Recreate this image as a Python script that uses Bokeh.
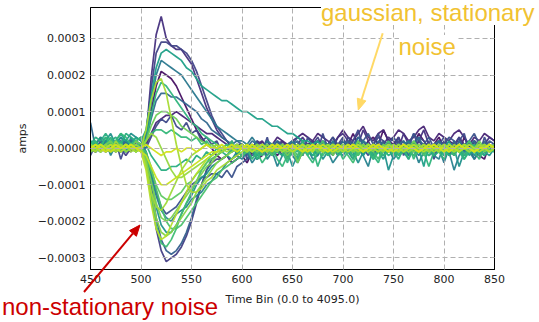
import math
from bokeh.plotting import figure
from bokeh.layouts import column
from bokeh.models import (Div, FixedTicker, CustomJSTickFormatter, LinearAxis, Range1d)
from bokeh.embed import file_html
from bokeh.resources import INLINE

# ---------------- data (values in units of 1e-5 A, sampled every 5 time bins) ----------------
time_bin = list(range(450, 851, 5))
AMP_UNIT = 1e-5

pulse_01 = [1, -1, 2, 0, -1, 1, 2, -1, 0, 1,
            0, 3, 19, 31, 36, 30, 28, 27, 27, 25,
            23, 19, 15, 11, 8, 5, 3, 2, 0, 1,
            1, -1, 0, 2, 1, -1, 0, 1, 2, 0,
            -1, 1, 3, 1, 0, 2, 1, -1, 0, 3,
            4, 2, 0, 1, 5, 2, -1, 0, 1, 3,
            2, 0, 4, 1, -1, 2, 5, 1, 0, 2,
            1, -2, 0, 3, 1, -1, 2, 0, 1, 3,
            2]
pulse_02 = [-1, 1, 0, 2, 1, -1, 0, 2, 1, 0,
            1, 4, 16, 26, 29, 29, 28, 28, 27, 26,
            24, 21, 17, 13, 9, 6, 4, 2, 1, 0,
            0, -2, 1, -1, 0, 2, -1, 1, 0, -2,
            1, 0, 2, -1, 1, 3, 0, -1, 2, 1,
            0, 3, 1, -1, 2, 0, 1, 3, 2, -1,
            1, 2, 0, -2, 1, 3, 2, 0, 1, -1,
            2, 0, 1, 3, -1, 0, 2, 1, -1, 0,
            1]
pulse_03 = [2, 0, 1, 3, 1, 2, 4, 2, 1, 3,
            2, 5, 14, 22, 26, 27, 26, 25, 24, 22,
            21, 19, 17, 16, 15, 14, 13, 13, 12, 11,
            10, 10, 9, 8, 8, 7, 6, 6, 5, 4,
            4, 3, 2, 2, 1, 2, 0, 1, -1, 0,
            1, -1, 0, 2, -2, 0, 1, -1, -3, 0,
            1, -2, 0, -1, 2, 0, -5, 1, 0, -1,
            0, 2, -1, 0, 1, -2, 0, 1, -1, 0,
            1]
pulse_04 = [0, 1, -1, 2, 0, 1, 3, 1, 2, 0,
            1, 3, 12, 20, 24, 23, 22, 21, 20, 18,
            16, 14, 12, 10, 8, 6, 5, 4, 3, 2,
            2, 1, 3, 1, 0, 2, 1, -1, 0, 1,
            2, 0, -1, 1, 0, -2, 1, 0, 2, -1,
            0, 1, -1, 0, 2, 1, -2, 0, 1, -1,
            0, -1, 1, 2, 0, -2, 0, 1, -1, 0,
            -4, 0, -2, 1, 0, 2, -1, 0, 1, 0,
            -1]
pulse_05 = [0, -1, 1, 0, 1, -1, 0, 1, 0, -1,
            0, 5, 13, 18, 19, 15, 8, 1, -5, -10,
            -12, -12, -11, -9, -8, -6, -5, -4, -3, -2,
            -1, 0, 1, 0, -1, 0, 1, 0, 0, 1,
            0, 1, -1, 0, 1, 0, -1, 0, 1, 0,
            -1, 0, 1, 0, -1, 1, 0, -1, 0, 1,
            0, -1, 0, 1, 0, -1, 1, 0, -1, 0,
            1, 0, -1, 0, 1, 0, -1, 1, 0, -1,
            0]
pulse_06 = [7, 0, 2, 1, -1, 0, 1, 2, 0, 1,
            0, 2, 8, 13, 15, 15, 14, 14, 13, 12,
            11, 10, 8, 7, 5, 4, 3, 2, 1, 2,
            1, 0, 2, 1, -1, 0, 1, 2, 0, -1,
            1, 2, 0, -1, 1, 0, 2, 1, -1, 0,
            2, 1, 0, 3, 1, -1, 0, 2, 1, 0,
            -1, 1, 2, 0, 1, 3, 0, -1, 1, 2,
            0, 1, -1, 2, 0, 1, 2, -1, 0, 1,
            0]
pulse_07 = [1, 0, -1, 1, 2, 0, -1, 1, 0, 2,
            1, 2, 6, 9, 10, 10, 9, 8, 6, 5,
            4, 3, 2, 1, 1, 0, -1, 0, 1, -1,
            0, 1, -1, 0, 1, 0, -1, 1, 0, -2,
            0, -4, -1, 0, 1, -1, 0, 1, -2, 0,
            1, 0, -1, 2, 0, -1, 1, 0, -1, 1,
            0, 1, -1, 0, 2, 0, -1, 1, 0, -1,
            1, 0, -1, 0, 1, -1, 0, 2, 0, 1,
            0]
pulse_08 = [0, 1, 0, -1, 1, 0, 2, 0, -1, 1,
            0, 1, 4, 7, 8, 9, 9, 10, 9, 8,
            7, 6, 5, 4, 4, 3, 2, 1, 1, 0,
            1, 0, -1, 1, 2, 0, 1, 3, 2, 1,
            2, 3, 4, 3, 2, 4, 3, 2, 1, 3,
            5, 3, 2, 4, 6, 3, 2, 4, 5, 2,
            3, 5, 4, 2, 3, 5, 6, 3, 2, 4,
            3, 2, 4, 5, 3, 1, 3, 2, 4, 3,
            2]
pulse_09 = [1, 2, 0, 3, 1, 2, 4, 3, 1, 2,
            3, 2, 4, 5, 5, 4, 5, 4, 3, 3,
            2, 3, 1, 2, 0, 1, -1, 0, 2, -1,
            -2, 0, -3, -1, -4, -2, 0, -3, -5, -2,
            -1, -3, 0, -2, -4, -1, 0, -2, -1, 0,
            -3, -1, 0, -2, 1, -1, -3, 0, -2, -1,
            0, -2, -1, 1, -3, 0, -1, -2, 0, -1,
            -3, 0, -1, 1, -2, 0, -1, -3, 0, -1,
            0]
dip_01 = [0, -1, 1, 0, -1, 1, 0, -2, 0, 1,
          0, -3, -12, -22, -28, -31, -30, -29, -27, -24,
          -20, -15, -10, -6, -4, -3, -3, -2, -4, -3,
          -2, -1, 0, -2, -1, 1, -1, 0, -2, 0,
          -1, 1, 0, -1, 2, 0, -1, 1, 0, -2,
          0, 1, -1, 0, -2, 1, 0, -1, 1, 0,
          -1, 0, 1, -1, 0, 2, 0, -1, 1, 0,
          0, -1, 1, 0, -2, 0, -3, -1, 0, 1,
          0]
dip_02 = [1, 0, -1, 2, 1, 0, -1, 1, 2, 0,
          1, -2, -10, -19, -25, -28, -29, -28, -26, -23,
          -19, -14, -10, -6, -3, -2, -1, 0, -1, 0,
          1, 0, -1, 1, 0, -2, 0, 1, -1, 0,
          2, 0, -1, 1, 0, -1, 2, 0, 1, -1,
          0, 2, 1, -1, 0, 1, -2, 0, 1, 0,
          1, -1, 0, 2, 1, -1, 0, 1, -2, 0,
          1, 0, 2, -1, 0, 1, 0, -1, 2, 0,
          1]
dip_03 = [-1, 0, 1, -1, 0, 2, 1, -1, 0, 1,
          0, -4, -13, -21, -26, -27, -25, -22, -18, -15,
          -12, -9, -6, -4, -2, -1, 0, 1, 0, -1,
          0, 1, -1, 0, -2, 0, 1, -1, 0, -3,
          -1, 0, -2, 1, 0, -1, -2, 0, 1, -1,
          0, -2, -4, -1, 0, 1, -1, -3, 0, -1,
          0, -1, 1, 0, -2, -1, 0, 1, -1, 0,
          -1, 0, -2, 0, 1, -1, 0, -1, 1, 0,
          -1]
dip_04 = [0, 1, -1, 0, 1, 0, -1, 0, 1, 0,
          -1, -6, -15, -22, -25, -24, -21, -18, -15, -12,
          -9, -7, -5, -3, -2, -1, 0, 0, 1, 0,
          1, 0, -1, 0, 1, 0, -1, 1, 0, 0,
          -1, 0, 1, 0, -1, 1, 0, -1, 0, 1,
          0, -1, 0, 1, 0, -1, 0, 1, 0, -1,
          1, 0, -1, 0, 1, 0, -1, 0, 1, 0,
          -1, 1, 0, -1, 0, 1, 0, -1, 0, 1,
          0]
dip_05 = [2, 1, 3, 2, 4, 1, 3, 2, 4, 3,
          2, -1, -8, -16, -21, -23, -23, -21, -18, -15,
          -13, -10, -8, -7, -5, -4, -3, -2, -3, -1,
          -2, 0, -1, -3, -1, 0, -2, -1, 0, -1,
          -5, -2, 0, -1, -2, 0, -3, -1, 0, -1,
          -2, 0, -1, -4, -1, 0, -2, -1, 0, -6,
          -2, 0, -1, -3, 0, -1, 0, -2, -1, 0,
          -2, -1, 0, -5, -1, 0, -2, 0, -1, -2,
          0]
dip_06 = [1, 0, 0, 1, -1, 0, 1, 0, 1, 0,
          0, -3, -9, -15, -19, -20, -19, -17, -15, -13,
          -11, -9, -7, -5, -4, -2, -1, 0, 0, 1,
          0, 1, 0, -1, 0, 1, 0, 1, -1, 0,
          1, 0, 0, -1, 1, 0, -1, 0, 1, 0,
          0, 1, -1, 0, 0, 1, 0, -1, 1, 0,
          -1, 0, 1, 0, -1, 0, 1, 0, 0, -1,
          0, 1, 0, -1, 1, 0, 0, 1, -1, 0,
          1]
dip_07 = [0, -1, 1, 0, 2, 0, -1, 1, 0, 2,
          1, -1, -6, -12, -16, -18, -17, -16, -14, -12,
          -10, -9, -8, -8, -7, -7, -8, -6, -8, -5,
          -4, -3, -2, -1, 0, -1, 0, 2, 1, 0,
          1, 3, 2, 0, 1, 2, 0, 1, 3, 1,
          2, 0, 1, 3, 2, 4, 1, 0, 2, 1,
          3, 1, 2, 0, 4, 2, 1, 3, 0, 2,
          1, 3, 2, 0, 1, 2, 4, 1, 0, 2,
          1]
dip_08 = [-1, 0, 1, 0, -1, 0, 1, 0, 0, -1,
          0, -2, -6, -10, -13, -14, -14, -13, -12, -10,
          -9, -7, -6, -4, -3, -2, -1, 0, 0, 1,
          0, -1, 0, 1, 0, -1, 0, 0, 1, 0,
          -1, 0, 1, 0, 0, -1, 0, 1, 0, -1,
          0, 0, 1, -1, 0, 1, 0, 0, -1, 0,
          1, 0, -1, 0, 1, 0, 0, -1, 0, 1,
          0, -1, 0, 1, 0, 0, -1, 0, 1, 0,
          0]
dip_09 = [0, 0, 1, 0, -1, 0, 0, 1, 0, 0,
          -1, -2, -5, -8, -10, -10, -9, -8, -7, -6,
          -5, -4, -3, -2, -1, -1, 0, 0, 1, 0,
          0, 0, 1, 0, -1, 0, 0, 1, 0, 0,
          1, 0, 0, -1, 0, 0, 1, 0, -1, 0,
          0, 1, 0, 0, -1, 0, 1, 0, 0, -1,
          0, 0, 1, 0, 0, -1, 0, 1, 0, 0,
          -1, 0, 0, 1, 0, 0, -1, 0, 0, 1,
          0]
dip_10 = [1, 3, 2, 4, 2, 3, 1, 4, 3, 2,
          3, 1, -2, -4, -6, -6, -5, -5, -4, -3,
          -4, -2, -3, -1, -2, 0, -1, -2, 0, -1,
          1, -1, 0, -2, -1, 1, 0, -1, -2, 0,
          -1, -3, -1, 0, -2, -1, 1, -2, 0, -1,
          -1, 0, -2, -1, 1, 0, -3, -1, 0, -2,
          -1, -3, 0, -1, -2, 0, -1, 1, -2, -1,
          0, -2, -1, 0, -3, -1, 0, -1, -2, 0,
          -1]
slow_dip = [0, 1, -1, 0, 2, 0, -1, 1, 0, -1,
            0, -1, -5, -11, -16, -20, -22, -22, -21, -19,
            -17, -15, -13, -11, -9, -8, -6, -5, -4, -3,
            -2, -1, 0, -1, 1, 0, -2, 0, 1, -1,
            0, -2, 1, 0, -1, 0, 2, -1, 0, 1,
            -1, 0, 1, -2, 0, 1, 0, -1, 0, 2,
            0, -1, 0, 1, -1, 0, -2, 0, 1, 0,
            -1, 1, 0, -1, 0, 2, 0, -1, 0, 1,
            0]
flat_01 = [0, 1, 0, -1, 0, 1, 0, 0, 1, 0,
           0, 1, 0, -1, -2, -1, -1, 0, -1, 0,
           0, -1, 0, 1, 0, 0, 1, 0, 0, -1,
           0, 1, 0, 0, -1, 0, 1, 0, 0, 1,
           0, 0, -1, 0, 1, 0, 0, -1, 0, 1,
           0, 0, 1, 0, -1, 0, 0, 1, 0, 0,
           -1, 0, 1, 0, 0, -1, 0, 0, 1, 0,
           0, -1, 0, 1, 0, 0, -1, 0, 0, 1,
           0]
flat_02 = [-1, 0, 1, -1, 0, 0, 1, -1, 0, 1,
           0, 2, 4, 3, 0, -3, -6, -8, -8, -7,
           -6, -5, -4, -3, -2, -1, -1, 0, 0, 1,
           0, -1, 0, 1, 0, -1, 0, 1, 0, -1,
           0, 1, 0, -1, 0, 1, -1, 0, 1, 0,
           -1, 0, 1, 0, -1, 0, 1, 0, 0, -1,
           0, 1, 0, -1, 0, 0, 1, -1, 0, 1,
           0, -1, 1, 0, 0, -1, 0, 1, 0, -1,
           0]
noise_01 = [-2, 1, 3, -1, 0, 2, -3, 1, 2, -1,
            1, 0, 3, 6, 8, 7, 9, 6, 5, 7,
            4, 5, 2, 3, 1, 2, -1, 0, 2, -2,
            1, -3, 0, 2, -1, 3, -2, 0, 1, -3,
            2, 0, -2, 3, 1, -1, 4, 0, -2, 1,
            3, -1, 2, 5, 0, -2, 1, 4, -1, 2,
            0, 3, -2, 1, 4, 0, -1, 2, -3, 1,
            3, 0, -2, 2, 4, -1, 1, -2, 3, 0,
            1]
noise_02 = [1, -1, 0, 2, -2, 1, 0, -1, 3, 0,
            -1, -2, -7, -13, -17, -19, -20, -18, -17, -16,
            -14, -13, -12, -10, -9, -7, -6, -4, -3, -2,
            -3, -1, -4, -2, 0, -3, -1, -5, -2, 0,
            -2, -4, -1, 0, -3, -2, 1, -1, -4, -2,
            0, -1, -3, 1, -2, -5, 0, -1, -2, 0,
            -3, -1, 1, -2, 0, -4, -1, 0, -2, -3,
            1, -1, -6, -2, 0, -1, -3, 0, -2, 1,
            -1]
noise_03 = [0, 2, -1, 1, 3, 0, 2, -1, 1, 2,
            0, 2, 9, 15, 18, 17, 15, 13, 11, 9,
            7, 6, 4, 3, 2, 1, 0, 1, -1, 0,
            -2, 0, 1, -3, -1, 0, -2, 1, -1, -4,
            0, -1, 2, -2, 0, -5, -1, 0, 1, -2,
            -1, 0, -3, 1, -1, 0, -2, -4, 0, 1,
            -2, -1, 0, -3, 1, 0, -1, -5, -1, 0,
            -2, 1, 0, -1, -3, 0, 1, -2, 0, -1,
            0]
noise_04 = [0, -1, 1, 0, -1, 2, 0, 1, -1, 0,
            0, -5, -12, -16, -17, -15, -12, -9, -6, -4,
            -2, -1, 0, 1, 0, 1, 0, -1, 0, 1,
            0, -1, 1, 0, 0, -1, 1, 0, -1, 0,
            1, 0, -1, 1, 0, 0, -1, 1, 0, -1,
            0, 1, 0, -1, 0, 1, 0, 0, -1, 1,
            0, -1, 1, 0, 0, -1, 0, 1, 0, -1,
            1, 0, 0, -1, 1, 0, -1, 0, 1, 0,
            0]
noise_05 = [1, 0, -1, 1, 0, -1, 0, 1, 0, -1,
            0, -4, -12, -19, -23, -24, -23, -21, -19, -17,
            -15, -12, -10, -8, -6, -4, -3, -2, -1, 0,
            1, 0, -1, 0, 1, 0, 0, -1, 1, 0,
            -1, 0, 1, 0, -1, 1, 0, 0, -1, 0,
            1, 0, -1, 0, 1, 0, -1, 1, 0, 0,
            -1, 1, 0, -1, 0, 1, 0, -1, 0, 1,
            0, 0, -1, 1, 0, -1, 0, 1, 0, -1,
            0]
noise_06 = [0, -1, 1, 2, 0, -1, 1, 0, 2, 1,
            0, 2, 10, 17, 21, 20, 19, 17, 14, 11,
            8, 5, 3, 1, 0, -2, -3, -2, -4, -3,
            -2, -4, -1, -3, -2, 0, -1, -2, 0, -1,
            1, 0, -2, 1, 2, 0, -1, 1, 3, 0,
            2, 1, 4, 1, 0, 2, 3, 1, 5, 2,
            1, 3, 0, 2, 1, 4, 2, 0, 1, 3,
            0, 2, 1, -1, 3, 0, 2, -2, -3, 1,
            0]

y_ticks = [-0.0003, -0.0002, -0.0001, 0.0, 0.0001, 0.0002, 0.0003]
x_ticks = [450, 500, 550, 600, 650, 700, 750, 800, 850]

# draw order (dark to light) and viridis colours
traces = [noise_06, pulse_08, pulse_01, dip_01, pulse_02, noise_01, dip_07, dip_02,
          pulse_06, pulse_04, noise_02, dip_05, pulse_03, dip_10, noise_03, pulse_09,
          dip_03, slow_dip, dip_08, pulse_07, dip_06, noise_05, flat_02, noise_04,
          pulse_05, dip_04, dip_09, flat_01]
colors = ["#471063", "#482475", "#46307e", "#433e85", "#414487", "#3e4989", "#3b528b",
          "#355f8d", "#31688e", "#2a788e", "#26828e", "#21918c", "#1fa088", "#27ad81",
          "#2fb47c", "#35b779", "#3fbc73", "#4ac16d", "#5ec962", "#6ece58", "#7ad151",
          "#86d549", "#95d840", "#9fda3a", "#a8db34", "#b5de2b", "#c8e020", "#d2e21b"]

# ---------------- main figure ----------------
W, H = 539, 322
p = figure(width=W, height=H, output_backend="svg", toolbar_location=None, tools="",
           x_range=Range1d(450, 850), y_range=Range1d(-3.317e-4, 3.847e-4),
           min_border_left=90, min_border_right=45, min_border_top=7, min_border_bottom=53)
p.background_fill_color = "white"
p.border_fill_color = "white"
p.outline_line_color = "black"
p.outline_line_width = 1

for vals, col in zip(traces, colors):
    p.line(time_bin, [v * AMP_UNIT for v in vals], line_color=col, line_width=1.7, line_alpha=0.95)

FONT = "DejaVu Sans"
for ax in (p.xaxis[0], p.yaxis[0]):
    ax.major_tick_in = 4
    ax.major_tick_out = 0
    ax.minor_tick_in = 0
    ax.minor_tick_out = 0
    ax.axis_line_color = "black"
    ax.major_tick_line_color = "black"
    ax.major_label_text_font = FONT
    ax.major_label_text_font_size = "11px"
    ax.major_label_text_color = "#222222"
    ax.major_label_standoff = 5
    ax.axis_label_text_font = FONT
    ax.axis_label_text_font_size = "11px"
    ax.axis_label_text_font_style = "normal"
    ax.axis_label_text_color = "#222222"

p.xaxis[0].ticker = FixedTicker(ticks=x_ticks)
p.yaxis[0].ticker = FixedTicker(ticks=y_ticks)
p.yaxis[0].formatter = CustomJSTickFormatter(
    code="return (tick < -1e-12 ? '\u2212' : '') + Math.abs(tick).toFixed(4);")
p.xaxis[0].axis_label = "Time Bin (0.0 to 4095.0)"
p.yaxis[0].axis_label = "amps"
p.xaxis[0].axis_label_standoff = 7
p.yaxis[0].axis_label_standoff = 6

right_axis = LinearAxis(ticker=FixedTicker(ticks=y_ticks), major_tick_in=4, major_tick_out=0,
                        minor_tick_in=0, minor_tick_out=0,
                        formatter=CustomJSTickFormatter(code="return '';"),
                        major_label_standoff=0, axis_line_color="black",
                        major_tick_line_color="black")
p.add_layout(right_axis, "right")

p.grid.grid_line_color = "#b0b0b0"
p.grid.grid_line_dash = "5 3"
p.grid.grid_line_width = 1
p.grid.level = "annotation"
p.xgrid.ticker = FixedTicker(ticks=x_ticks)
p.ygrid.ticker = FixedTicker(ticks=y_ticks)

# ---------------- slide annotations (page pixels), drawn in an HTML overlay ----------------
YEL_TXT = "#F1C232"
YEL_ARR = "#FFD966"
RED = "#CC0000"
ASC = 20.3   # baseline offset from box top for 24px Liberation Sans with line-height 1


def arrow_svg(x0, y0, x1, y1, color, lw=2.0, head_len=11.0, head_w=9.0):
    dx, dy = x1 - x0, y1 - y0
    n = math.hypot(dx, dy)
    ux, uy = dx / n, dy / n
    bx, by = x1 - head_len * ux, y1 - head_len * uy
    px, py = -uy * head_w / 2, ux * head_w / 2
    return (f'<line x1="{x0:.1f}" y1="{y0:.1f}" x2="{bx:.1f}" y2="{by:.1f}" '
            f'stroke="{color}" stroke-width="{lw}"/>'
            f'<polygon points="{x1:.1f},{y1:.1f} {bx + px:.1f},{by + py:.1f} {bx - px:.1f},{by - py:.1f}" '
            f'fill="{color}" stroke="{color}" stroke-width="1"/>')


def text_span(left, baseline, txt, color, bg=None):
    bgcss = f"background:{bg};" if bg else ""
    return (f'<span style="position:absolute;left:{left}px;top:{baseline - ASC:.1f}px;'
            f'font-family:\'Liberation Sans\',Arial,sans-serif;font-size:24px;line-height:1;'
            f'white-space:nowrap;color:{color};{bgcss}">{txt}</span>')


overlay_html = (
    f'<div style="position:relative;width:{W}px;height:{H}px;margin:0;padding:0;">'
    + text_span(321, 21.7, "gaussian, stationary", YEL_TXT, "white")
    + text_span(398.5, 55, "noise", YEL_TXT, "white")
    + text_span(2, 315.5, "non-stationary noise", RED)
    + f'<svg width="{W}" height="{H}" style="position:absolute;left:0;top:0;overflow:visible">'
    + arrow_svg(382.7, 33.3, 358.3, 110, YEL_ARR)
    + arrow_svg(84, 292, 140, 225, RED)
    + '</svg></div>'
)
overlay = Div(text=overlay_html, width=W, height=H, margin=0,
              styles={"position": "absolute", "top": "0px", "left": "0px",
                      "margin": "0px", "padding": "0px"})

page = column(p, overlay)
open("out.html", "w").write(file_html(page, INLINE))
